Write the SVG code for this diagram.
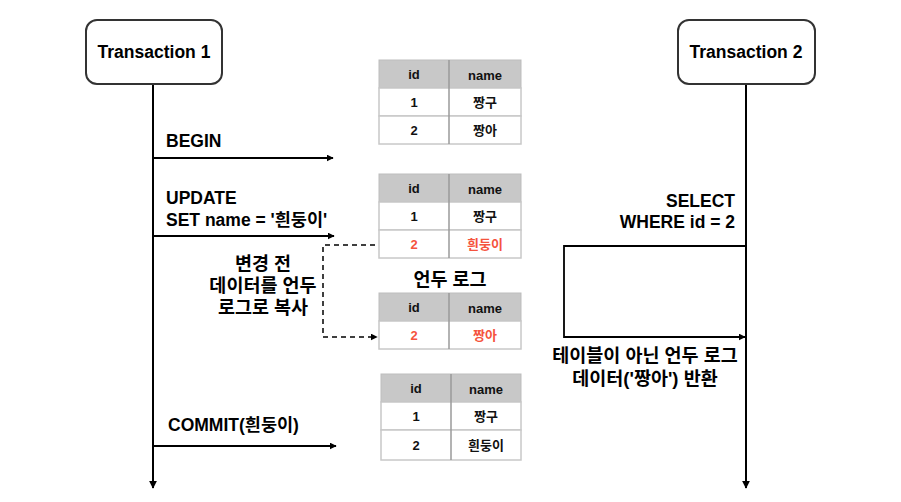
<svg xmlns="http://www.w3.org/2000/svg" width="901" height="502" viewBox="0 0 901 502">
<defs>
<style>
.lbl{font-family:"Liberation Sans","Noto Sans CJK KR",sans-serif;font-size:17.5px;font-weight:700;fill:#000}
.ko{font-size:18.5px}
.tx{font-family:"Liberation Sans","Noto Sans CJK KR",sans-serif;font-size:13px;font-weight:700;fill:#111;text-anchor:middle}
.red{fill:#f5533d}
.hdr{fill:#c8c8c8;stroke:#bdbdbd;stroke-width:1}
.cell{fill:#fff;stroke:#c8c8c8;stroke-width:1.5}
.div{stroke:#9a9a9a;stroke-width:1.5}
.line{stroke:#000;stroke-width:2;fill:none}
.dash{stroke:#000;stroke-width:1.5;fill:none;stroke-dasharray:5,4}
.node{fill:#fff;stroke:#333;stroke-width:2}
</style>
<marker id="ah" viewBox="0 0 10 10" refX="9" refY="5" markerWidth="7" markerHeight="7" markerUnits="userSpaceOnUse" orient="auto">
<path d="M0,0 L10,5 L0,10 z" fill="#000"/>
</marker>
<marker id="ah2" viewBox="0 0 10 10" refX="9" refY="5" markerWidth="8" markerHeight="8" markerUnits="userSpaceOnUse" orient="auto">
<path d="M0,0 L10,5 L0,10 z" fill="#000"/>
</marker>
</defs>
<rect width="901" height="502" fill="#fff"/>

<g id="connectors">
<line class="line" x1="153" y1="84" x2="153" y2="488" marker-end="url(#ah2)"/>
<line class="line" x1="746" y1="84" x2="746" y2="488" marker-end="url(#ah2)"/>
<line class="line" x1="153" y1="158" x2="333" y2="158" marker-end="url(#ah)"/>
<line class="line" x1="153" y1="236" x2="334" y2="236" marker-end="url(#ah)"/>
<line class="line" x1="153" y1="446" x2="336" y2="446" marker-end="url(#ah)"/>
<path class="dash" d="M375,245 H323 V337 H377" marker-end="url(#ah)"/>
<path class="line" d="M746,246 H564 V337 H745" marker-end="url(#ah)" style="stroke-width:1.8"/>
</g>

<g id="transaction1">
<rect class="node" x="86" y="20" width="136" height="64" rx="11"/>
<text class="lbl" x="154" y="58" text-anchor="middle">Transaction 1</text>
</g>
<g id="transaction2">
<rect class="node" x="678" y="20" width="137" height="64" rx="11"/>
<text class="lbl" x="746" y="58" text-anchor="middle">Transaction 2</text>
</g>

<g id="table1">
<rect class="hdr" x="379" y="60" width="142" height="28"/>
<rect class="cell" x="379" y="88" width="142" height="28"/>
<rect class="cell" x="379" y="116" width="142" height="28"/>
<line class="div" x1="449" y1="60" x2="449" y2="144"/>
<text class="tx" x="414" y="79">id</text><text class="tx" x="485" y="80">name</text>
<text class="tx" x="414" y="107">1</text><text class="tx" x="485" y="107">짱구</text>
<text class="tx" x="414" y="135">2</text><text class="tx" x="485" y="135">짱아</text>
</g>

<g id="table2">
<rect class="hdr" x="379" y="174" width="142" height="28"/>
<rect class="cell" x="379" y="202" width="142" height="28"/>
<rect class="cell" x="379" y="230" width="142" height="28"/>
<line class="div" x1="449" y1="174" x2="449" y2="258"/>
<text class="tx" x="414" y="193">id</text><text class="tx" x="485" y="194">name</text>
<text class="tx" x="414" y="221">1</text><text class="tx" x="485" y="221">짱구</text>
<text class="tx red" x="414" y="249">2</text><text class="tx red" x="485" y="249">흰둥이</text>
</g>

<g id="undo-log">
<text class="lbl ko" x="450" y="286" text-anchor="middle">언두 로그</text>
<rect class="hdr" x="379" y="293" width="142" height="28"/>
<rect class="cell" x="379" y="321" width="142" height="28"/>
<line class="div" x1="449" y1="293" x2="449" y2="349"/>
<text class="tx" x="414" y="312">id</text><text class="tx" x="485" y="313">name</text>
<text class="tx red" x="414" y="340">2</text><text class="tx red" x="485" y="340">짱아</text>
</g>

<g id="table4">
<rect class="hdr" x="381" y="374" width="140" height="28"/>
<rect class="cell" x="381" y="402" width="140" height="28"/>
<rect class="cell" x="381" y="430" width="140" height="30"/>
<line class="div" x1="451" y1="374" x2="451" y2="460"/>
<text class="tx" x="416" y="393">id</text><text class="tx" x="486" y="394">name</text>
<text class="tx" x="416" y="421">1</text><text class="tx" x="486" y="421">짱구</text>
<text class="tx" x="416" y="450">2</text><text class="tx" x="486" y="450">흰둥이</text>
</g>

<g id="labels">
<text class="lbl" x="166" y="147">BEGIN</text>
<text class="lbl" x="166" y="204">UPDATE</text>
<text class="lbl" x="166" y="226">SET name = '흰둥이'</text>
<text class="lbl ko" x="263" y="270" text-anchor="middle">변경 전</text>
<text class="lbl ko" x="263" y="292" text-anchor="middle">데이터를 언두</text>
<text class="lbl ko" x="263" y="314" text-anchor="middle">로그로 복사</text>
<text class="lbl" x="168" y="431">COMMIT(흰둥이)</text>
<text class="lbl" x="735" y="207" text-anchor="end">SELECT</text>
<text class="lbl" x="735" y="228" text-anchor="end">WHERE id = 2</text>
<text class="lbl ko" x="645" y="362" text-anchor="middle">테이블이 아닌 언두 로그</text>
<text class="lbl ko" x="645" y="385" text-anchor="middle">데이터('짱아') 반환</text>
</g>
</svg>
